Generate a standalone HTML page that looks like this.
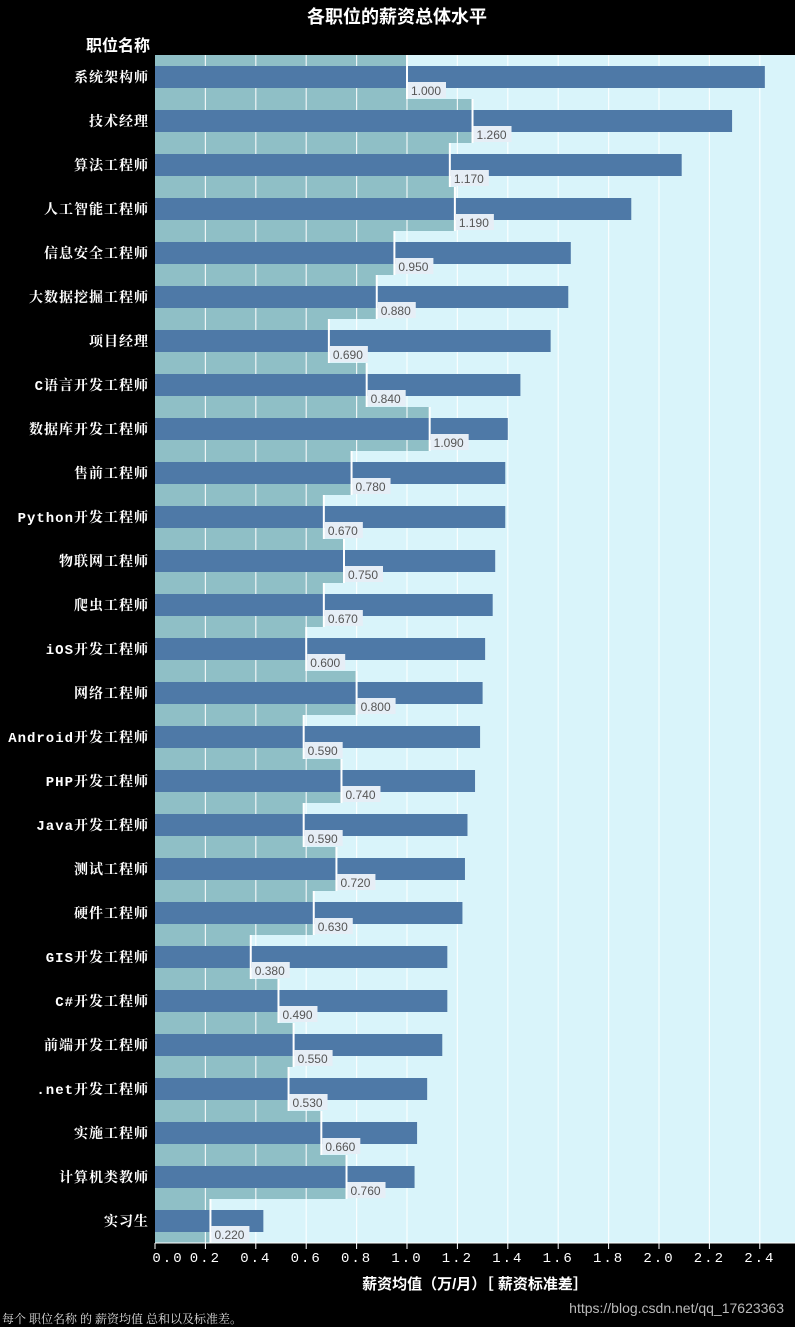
<!DOCTYPE html>
<html><head><meta charset="utf-8">
<style>
html,body{margin:0;padding:0;background:#000;}
body{width:795px;height:1327px;overflow:hidden;position:relative;}
svg{position:absolute;left:0;top:0;}
</style></head>
<body>
<svg id="chart" width="795" height="1327" xmlns="http://www.w3.org/2000/svg">
<rect x="0" y="0" width="795" height="1327" fill="#000"/>
<text x="397" y="23" text-anchor="middle" fill="#fff" font-size="18" font-weight="bold" font-family="'Liberation Sans','Noto Sans CJK SC',sans-serif">各职位的薪资总体水平</text>
<text x="150" y="51" text-anchor="end" fill="#fff" font-size="16" font-weight="bold" font-family="'Liberation Sans','Noto Sans CJK SC',sans-serif">职位名称</text>
<rect x="155" y="55" width="640" height="1188" fill="#d9f4fa"/>
<g id="std"></g><g id="grid"></g><g id="bars"></g><g id="ylabels"></g><g id="xaxis"></g>
<text x="475" y="1289" text-anchor="middle" fill="#fff" font-size="15" font-weight="bold" font-family="'Liberation Sans','Noto Sans CJK SC',sans-serif">薪资均值（万/月）［ 薪资标准差］</text>
<text x="2" y="1323" fill="#ddd" font-size="12" font-family="'Liberation Serif','Noto Serif CJK SC',serif">每个 职位名称 的 薪资均值 总和以及标准差。</text>
<text x="784" y="1313" text-anchor="end" fill="#bbb" font-size="14" font-family="'Liberation Sans',sans-serif">https://blog.csdn.net/qq_17623363</text>
</svg>
<script>
const categories=["系统架构师","技术经理","算法工程师","人工智能工程师","信息安全工程师","大数据挖掘工程师","项目经理","C语言开发工程师","数据库开发工程师","售前工程师","Python开发工程师","物联网工程师","爬虫工程师","iOS开发工程师","网络工程师","Android开发工程师","PHP开发工程师","Java开发工程师","测试工程师","硬件工程师","GIS开发工程师","C#开发工程师","前端开发工程师",".net开发工程师","实施工程师","计算机类教师","实习生"];
const meanValues=[2.42,2.29,2.09,1.89,1.65,1.64,1.57,1.45,1.40,1.39,1.39,1.35,1.34,1.31,1.30,1.29,1.27,1.24,1.23,1.22,1.16,1.16,1.14,1.08,1.04,1.03,0.43];
const stdValues=[1.000,1.260,1.170,1.190,0.950,0.880,0.690,0.840,1.090,0.780,0.670,0.750,0.670,0.600,0.800,0.590,0.740,0.590,0.720,0.630,0.380,0.490,0.550,0.530,0.660,0.760,0.220];
const tickValues=[0,0.2,0.4,0.6,0.8,1.0,1.2,1.4,1.6,1.8,2.0,2.2,2.4];
const tickLabels=["0.0","0.2","0.4","0.6","0.8","1.0","1.2","1.4","1.6","1.8","2.0","2.2","2.4"];

const NS="http://www.w3.org/2000/svg";
const X0=155,SC=252,Y0=55,RH=1188/categories.length;
const x=v=>X0+v*SC;
const yTop=i=>Y0+i*RH;
function mk(tag,attrs,parent){const e=document.createElementNS(NS,tag);for(const k in attrs)e.setAttribute(k,attrs[k]);parent.appendChild(e);return e;}
const gStd=document.getElementById('std'),gGrid=document.getElementById('grid'),gBars=document.getElementById('bars'),gY=document.getElementById('ylabels'),gX=document.getElementById('xaxis');
categories.forEach((c,i)=>{
  const r=mk('rect',{x:X0,y:yTop(i),width:x(stdValues[i])-X0,height:RH,fill:'#8fbfc6'},gStd);
  
  
});
tickValues.forEach((t,k)=>{
  if(t===0)return;
  const l=mk('line',{x1:x(t),x2:x(t),y1:Y0,y2:Y0+1188,stroke:'#ffffff',"stroke-width":1.2,opacity:0.85},gGrid);
  
  
});
categories.forEach((c,i)=>{
  const cy=yTop(i)+RH/2;
  const b=mk('rect',{x:X0,y:cy-11,width:x(meanValues[i])-X0,height:22,fill:'#4e79a7'},gBars);
  
  
  const sx=x(stdValues[i]);
  const l=mk('line',{x1:sx,x2:sx,y1:yTop(i),y2:yTop(i)+RH,stroke:'#fff',"stroke-width":2},gBars);
  
  
  const bg=mk('rect',{x:sx+1,y:cy+5,width:38,height:16,fill:'#e6eef6'},gBars);
  
  
  const t=mk('text',{x:sx+4,y:cy+18,fill:'#555',"font-size":12,"font-family":"'Liberation Sans',sans-serif"},gBars);
  t.textContent=stdValues[i].toFixed(3);
  
  
  const yl=mk('text',{x:149,y:cy+5,"text-anchor":"end",fill:'#fff',"font-size":14,"font-weight":"bold","letter-spacing":"1","font-family":"'Liberation Mono','Noto Serif CJK SC',serif"},gY);
  yl.textContent=c;
  
  
});
const ax=mk('line',{x1:X0,x2:795,y1:Y0+1188,y2:Y0+1188,stroke:'#fff',"stroke-width":1},gX);


tickValues.forEach((t,k)=>{
  const tk=mk('line',{x1:x(t),x2:x(t),y1:1243,y2:1249,stroke:'#fff'},gX);
  
  
  const lb=mk('text',{x:x(t)+(t===0?13:0),y:1262,"text-anchor":"middle",fill:'#fff',"font-size":14,"letter-spacing":"2","font-family":"'Liberation Mono',monospace"},gX);
  lb.textContent=tickLabels[k];
  
  
});
</script>
</body></html>
